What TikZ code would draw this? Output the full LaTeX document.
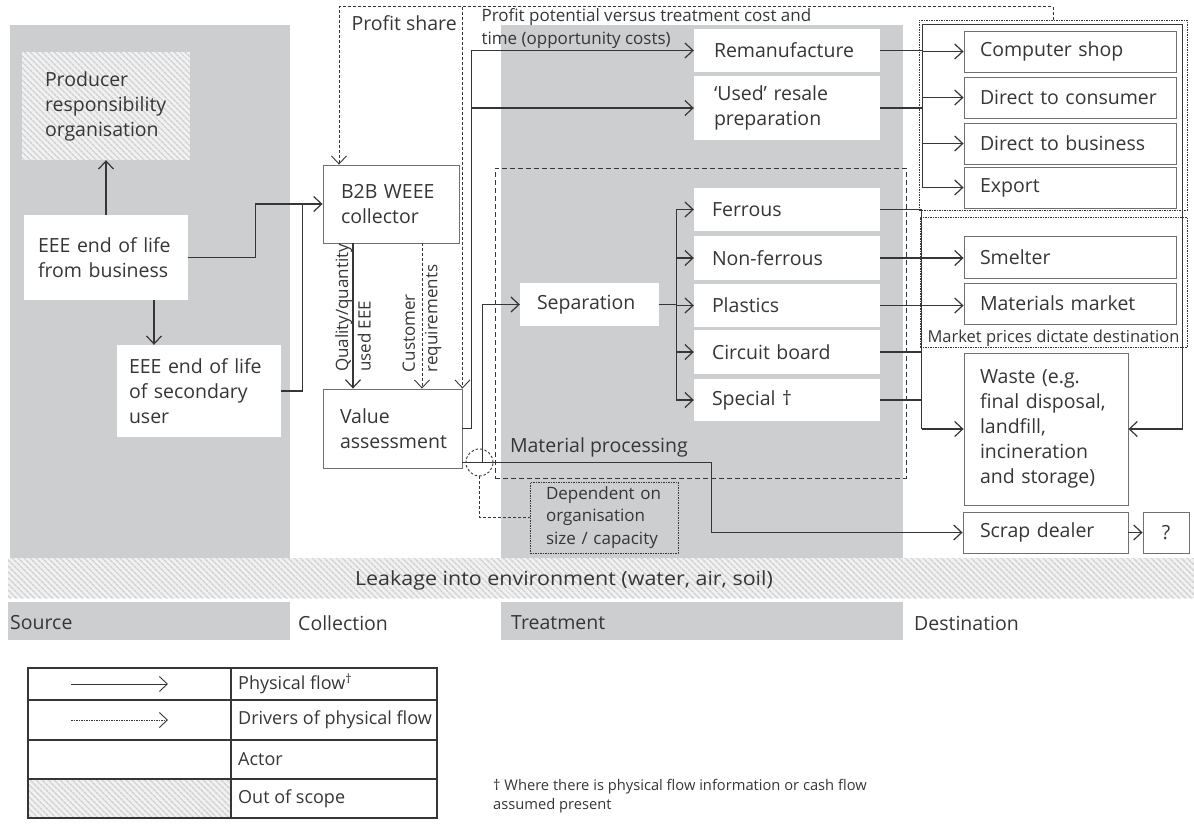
\documentclass[tikz,border=0pt]{standalone}
\usepackage{fontspec}
\setmainfont{Open Sans}
\usetikzlibrary{arrows.meta,patterns.meta}
\definecolor{colgray}{HTML}{CDCED0}
\definecolor{ink}{HTML}{363636}
\definecolor{rim}{HTML}{707070}
\definecolor{hatchbg}{HTML}{F1F1F1}
\definecolor{hatchln}{HTML}{CFCFCF}

\begin{document}
\begin{tikzpicture}[x=1pt,y=-1pt,
	font=\fontsize{19.5}{25}\selectfont, text=ink,
	wire/.style={draw=ink, line width=1.2pt},
	flow/.style={wire, -{Straight Barb[length=8pt,width=15pt]}},
	hint/.style={draw=ink, line width=0.9pt, dash pattern=on 3pt off 2pt},
	driver/.style={hint, -{Straight Barb[length=8pt,width=15pt]}},
	slot/.style={fill=white, align=left, inner xsep=0pt, inner ysep=0pt},
	actor/.style={slot, draw=rim, line width=0.9pt},
	hatch/.style={fill=hatchbg, postaction={pattern={Lines[angle=-45,distance=4pt,line width=1.5pt]}, pattern color=hatchln}},
	smalltext/.style={font=\fontsize{17}{22.5}\selectfont},
	labeltext/.style={font=\fontsize{16.5}{21}\selectfont},
	keytext/.style={font=\fontsize{18}{22}\selectfont}]
	\useasboundingbox (0,0) rectangle (1194,831);
	\fill[colgray] (10,25) rectangle (290,558);
	\fill[colgray] (501,25) rectangle (903,558);
	\fill[hatch] (8,558) rectangle (1194,598);
	\fill[colgray] (8,602) rectangle (290,640);
	\fill[colgray] (501,602) rectangle (903,640);

	\node (retail) at (1053,115) [draw=ink, line width=0.7pt, dash pattern=on 1.5pt off 1pt, minimum width=268pt, minimum height=190pt] {};
	\node (market) at (1053.5,282) [draw=ink, line width=0.7pt, dash pattern=on 1.5pt off 1pt, minimum width=267pt, minimum height=130pt] {};
	\node (mproc) at (700.5,323) [draw=ink, line width=1pt, dash pattern=on 5pt off 3pt, minimum width=411pt, minimum height=310pt] {};

	\node (pro) at (106,106) [slot, hatch, minimum width=168pt, minimum height=108pt, text width=122pt] {Producer\\responsibility\\organisation};
	\node (biz) at (106,257.5) [slot, minimum width=164pt, minimum height=85pt, text width=136pt] {EEE end of life\\from business};
	\node (sec) at (199,391) [slot, minimum width=164pt, minimum height=92pt, text width=140pt] {EEE end of life\\of secondary\\user};
	\node (col) at (391,204) [actor, minimum width=136pt, minimum height=78pt, text width=100pt] {B2B WEEE\\collector};
	\node (val) at (392.5,428.5) [actor, minimum width=139pt, minimum height=79pt, text width=105pt] {Value\\assessment};

	\node (rem) at (787,50.5) [slot, minimum width=186pt, minimum height=43pt, text width=146pt] {Remanufacture};
	\node (used) at (787,108) [slot, minimum width=186pt, minimum height=64pt, text width=146pt] {‘Used’ resale\\preparation};
	\node (sepa) at (589.5,304.5) [slot, minimum width=139pt, minimum height=43pt, text width=105pt] {Separation};
	\node (fer) at (787,209.5) [slot, minimum width=186pt, minimum height=43pt, text width=150pt] {Ferrous};
	\node (nfe) at (787,258) [slot, minimum width=186pt, minimum height=44pt, text width=150pt] {Non-ferrous};
	\node (pla) at (787,305.5) [slot, minimum width=186pt, minimum height=43pt, text width=150pt] {Plastics};
	\node (cir) at (787,352) [slot, minimum width=186pt, minimum height=44pt, text width=150pt] {Circuit board};
	\node (spe) at (787,400) [slot, minimum width=186pt, minimum height=42pt, text width=150pt] {Special †};
	\node (dep) at (604,517.5) [draw=ink, line width=0.7pt, dash pattern=on 1.5pt off 1pt, align=left, smalltext, minimum width=148pt, minimum height=71pt, text width=116pt, inner sep=0pt] {Dependent on\\organisation\\size / capacity};

	\node (cshop) at (1070,51.5) [actor, minimum width=212pt, minimum height=41pt, text width=180pt] {Computer shop};
	\node (dcon) at (1070,97.5) [actor, minimum width=212pt, minimum height=41pt, text width=180pt] {Direct to consumer};
	\node (dbus) at (1070,143.5) [actor, minimum width=212pt, minimum height=41pt, text width=180pt] {Direct to business};
	\node (expo) at (1070,187.5) [actor, minimum width=212pt, minimum height=41pt, text width=180pt] {Export};
	\node (smel) at (1070,257) [actor, minimum width=212pt, minimum height=42pt, text width=180pt] {Smelter};
	\node (mmar) at (1070,303.5) [actor, minimum width=212pt, minimum height=41pt, text width=180pt] {Materials market};
	\node (waste) at (1046,429) [actor, minimum width=164pt, minimum height=152pt, text width=132pt] {Waste (e.g.\\final disposal,\\landfill,\\incineration\\and storage)};
	\node (scrap) at (1045.5,532.5) [actor, minimum width=165pt, minimum height=41pt, text width=131pt] {Scrap dealer};
	\node (unk) at (1166,532.5) [actor, minimum width=46pt, minimum height=41pt, align=center] {?};

	\node (share) at (348,23) [anchor=west] {Profit share};
	\node (opp) at (478,28.5) [anchor=west, smalltext, align=left] {Profit potential versus treatment cost and\\time (opportunity costs)};
	\node (mptxt) at ([shift={(12pt,26pt)}]mproc.south west) [anchor=base west] {Material processing};
	\node (mkt) at ([yshift=5pt]market.south) [anchor=base, labeltext] {Market prices dictate destination};
	\node (leak) at (564,580) {\scalebox{1.1}[1]{Leakage into environment (water, air, soil)}};
	\node (src) at (10,623) [anchor=west, inner xsep=0pt] {Source};
	\node (coll) at (298,623) [anchor=west, inner xsep=0pt] {Collection};
	\node (treat) at (511,623) [anchor=west, inner xsep=0pt] {Treatment};
	\node (dest) at (914,623) [anchor=west, inner xsep=0pt] {Destination};

	\coordinate (bizdn) at ([xshift=48pt]biz.south);
	\coordinate (qa) at ([xshift=-38pt]col.south);
	\coordinate (cr) at ([xshift=31pt]col.south);
	\coordinate (top) at ([yshift=13pt]retail.north);
	\coordinate (share0) at ([xshift=-52pt]col.north);
	\coordinate (trunk) at ([xshift=9pt]val.east);
	\coordinate (vout) at ([yshift=6pt]val.south east);
	\coordinate (drop) at ([xshift=18pt]fer.west);
	\coordinate (rbus) at ([xshift=-41pt]cshop.west);
	\coordinate (rtop) at ([yshift=-5pt]retail.north);
	\coordinate (rside) at ([xshift=-5pt]retail.east);
	\coordinate (mbus) at ([xshift=-42pt]smel.west);
	\node (valve) at ([xshift=17pt]vout) [circle, draw=ink, line width=0.9pt, dash pattern=on 2.5pt off 2pt, minimum size=27pt, inner sep=0pt] {};

	\draw[flow] (biz.north) -- (pro.south);
	\draw[flow] (bizdn) -- (bizdn |- sec.north);
	\draw[flow] (biz.east) -- ++(67,0) |- (col.west);
	\draw[wire] (sec.east) -- ++(21,0) |- ([xshift=-21pt]col.west);
	\draw[flow] (qa) -- (qa |- val.north) node [pos=0.89, rotate=90, anchor=west, smalltext, align=left, inner sep=0pt] {Quality/quantity\\used EEE};
	\draw[driver] (cr) -- (cr |- val.north) node [pos=0.89, rotate=90, anchor=west, smalltext, align=left, inner sep=0pt] {Customer\\requirements};
	\draw[driver] (retail.north) -- (top) -| (share0);
	\draw[driver] (top -| val.north east) -- (val.north east);
	\draw[flow] (val.east) -- (trunk) |- (rem.west);
	\draw[flow] (trunk |- used.west) -- (used.west);
	\draw[flow] (vout) -| (drop |- scrap.west) -- (scrap.west);
	\draw[flow] ([xshift=20pt]vout) |- (sepa.west);
	\draw[hint] (valve.south) |- (dep.west);
	\foreach \m in {fer,nfe,pla,cir,spe}
		\draw[flow] (sepa.east) -- ++(17,0) |- (\m.west);
	\draw[wire] (rem.east) -- (rbus |- rem.east)
		  (used.east) -- (rbus |- used.east);
	\foreach \d in {cshop,dcon,dbus,expo}
		\draw[flow] (rbus |- \d.west) -- (\d.west);
	\draw[flow] (rbus |- expo.west) -- (rbus |- rtop) -- (rside |- rtop) -- (rside |- waste.east) -- (waste.east);
	\draw[wire] (fer.east) -- (mbus |- fer.east) -- (mbus |- waste.west)
		  (cir.east) -- (mbus |- cir.east)
		  (spe.east) -- (mbus |- spe.east);
	\draw[flow] (mbus |- waste.west) -- (waste.west);
	\draw[flow] (nfe.east) -- (nfe.east -| smel.west);
	\draw[flow] (pla.east) -- (pla.east -| mmar.west);
	\draw[flow] (scrap.east) -- (unk.west);

	\fill[hatch] (28,779) rectangle (231,818);
	\draw[ink, line width=1.2pt] (28,668) rectangle (437,818)
		  (231,668) -- (231,818)
		  (28,700) -- (437,700)
		  (28,740) -- (437,740)
		  (28,779) -- (437,779);
	\coordinate (k1) at (71,684);
	\coordinate (k2) at (71,720);
	\draw[flow, line width=0.9pt] (k1) -- ++(97,0);
	\draw[driver, dash pattern=on 1.5pt off 1pt] (k2) -- ++(97,0);
	\node (kflow) at (238,684) [anchor=west, inner xsep=0pt, keytext] {Physical flow\textsuperscript{†}};
	\node (kdriver) at (238,720) [anchor=west, inner xsep=0pt, keytext] {Drivers of physical flow};
	\node (kactor) at (238,759.5) [anchor=west, inner xsep=0pt, keytext] {Actor};
	\node (kscope) at (238,798.5) [anchor=west, inner xsep=0pt, keytext] {Out of scope};
	\node (note) at (493,796) [anchor=west, align=left, inner xsep=0pt, font=\fontsize{14.7}{19}\selectfont] {† Where there is physical flow information or cash flow\\assumed present};
\end{tikzpicture}
\end{document}
